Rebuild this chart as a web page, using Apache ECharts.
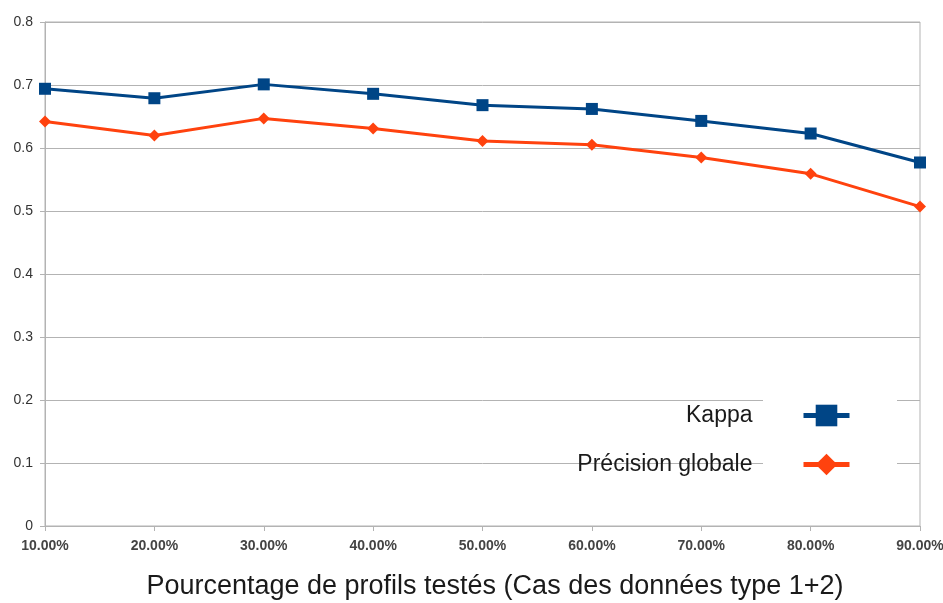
<!DOCTYPE html>
<html>
<head>
<meta charset="utf-8">
<script src="https://cdn.jsdelivr.net/npm/echarts@6/dist/echarts.min.js"></script>
<style>
  html, body { margin: 0; padding: 0; background: #fff; }
  #chart { width: 943px; height: 603px; }
</style>
</head>
<body>
<div id="chart"></div>
<script>
// Categories: share of profiles tested
const categories = ['10.00%', '20.00%', '30.00%', '40.00%', '50.00%', '60.00%', '70.00%', '80.00%', '90.00%'];
// Kappa coefficient per share
const kappa = [0.694, 0.679, 0.701, 0.686, 0.668, 0.662, 0.643, 0.623, 0.577];
// Overall accuracy per share
const precisionGlobale = [0.642, 0.620, 0.647, 0.631, 0.611, 0.605, 0.585, 0.559, 0.507];
const seriesNames = ['Kappa', 'Précision globale'];
const axisTitle = 'Pourcentage de profils testés (Cas des données type 1+2)';

const chart = echarts.init(document.getElementById('chart'));
chart.setOption({
  animation: false,
  backgroundColor: '#ffffff',
  grid: {
    left: 45, right: 23, top: 22, bottom: 77,
    outerBoundsMode: 'none',
    containLabel: false,
    show: true, borderColor: '#b3b3b3', borderWidth: 1
  },
  graphic: [
    {
      // white panel behind the legend keys
      type: 'rect', z: 1,
      shape: { x: 763, y: 386, width: 134, height: 102 },
      style: { fill: '#ffffff' }
    },
    {
      type: 'text', z: 5,
      x: 495, y: 587,
      style: {
        text: axisTitle, fill: '#1a1a1a',
        font: '27px "Liberation Sans", Arial, sans-serif',
        align: 'center', verticalAlign: 'middle'
      }
    }
  ],
  legend: {
    orient: 'vertical',
    align: 'right',
    right: 86, top: 397,
    itemWidth: 46, itemHeight: 27,
    itemGap: 22,
    data: seriesNames,
    lineStyle: { width: 5 },
    textStyle: {
      fontFamily: '"Liberation Sans", Arial, sans-serif',
      fontSize: 23, color: '#1a1a1a', lineHeight: 27,
      padding: [0, 46, 0, 0]
    }
  },
  xAxis: {
    type: 'category',
    data: categories,
    boundaryGap: false,
    axisLine: { show: true, lineStyle: { color: '#b3b3b3' } },
    axisTick: { show: true, length: 5, lineStyle: { color: '#b3b3b3' } },
    axisLabel: {
      margin: 13,
      fontFamily: '"Liberation Sans Narrow", "Liberation Sans", Arial, sans-serif',
      fontSize: 14, fontWeight: 'bold', color: '#444444'
    },
    splitLine: { show: false }
  },
  yAxis: {
    type: 'value',
    min: 0, max: 0.8, interval: 0.1,
    axisLine: { show: true, lineStyle: { color: '#b3b3b3' } },
    axisTick: { show: true, length: 5, lineStyle: { color: '#b3b3b3' } },
    axisLabel: {
      margin: 12,
      fontFamily: '"Liberation Sans", Arial, sans-serif',
      fontSize: 14, color: '#333333',
      formatter: v => (Math.round(v * 10) / 10).toString()
    },
    splitLine: { show: true, lineStyle: { color: '#b3b3b3', width: 1 } }
  },
  series: [
    {
      name: seriesNames[0], type: 'line', z: 3,
      data: kappa,
      symbol: 'rect', symbolSize: 12,
      color: '#004586',
      lineStyle: { width: 3, color: '#004586' },
      itemStyle: { color: '#004586' }
    },
    {
      name: seriesNames[1], type: 'line', z: 3,
      data: precisionGlobale,
      symbol: 'diamond', symbolSize: 12,
      color: '#ff420e',
      lineStyle: { width: 3, color: '#ff420e' },
      itemStyle: { color: '#ff420e' }
    }
  ]
});
</script>
</body>
</html>
